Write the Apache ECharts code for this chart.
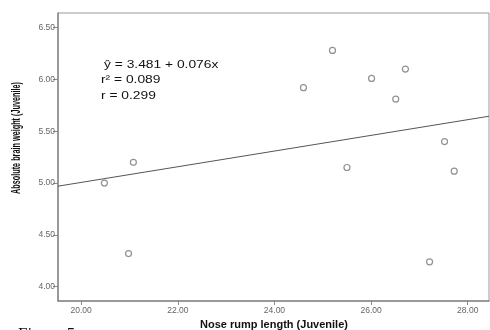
<!DOCTYPE html>
<html><head><meta charset="utf-8">
<script src="https://cdn.jsdelivr.net/npm/echarts@6/dist/echarts.min.js"></script>
<style>html,body{margin:0;padding:0;background:#fff}#c{width:490px;height:330px}</style>
</head><body><div id="c"></div>
<script>
var noseRump = [20.48, 21.08, 20.98, 24.60, 25.20, 26.01, 26.71, 26.51, 27.52, 25.50, 27.72, 27.21];
var brainWeight = [5.00, 5.20, 4.32, 5.92, 6.28, 6.01, 6.10, 5.81, 5.40, 5.15, 5.115, 4.24];
var fitX = [19.52, 28.44];
var fitY = [4.97, 5.645];
var xTicks = [20, 22, 24, 26, 28];
var yTicks = [4.0, 4.5, 5.0, 5.5, 6.0, 6.5];
var xTitle = 'Nose rump length (Juvenile)';
var yTitle = 'Absolute brain weight (Juvenile)';
var eqLines = ['ŷ = 3.481 + 0.076x', 'r\u00B2 = 0.089', 'r = 0.299'];

var chart = echarts.init(document.getElementById('c'), null, {renderer: 'canvas'});
var pts = noseRump.map(function (x, i) { return [x, brainWeight[i]]; });
var fit = fitX.map(function (x, i) { return [x, fitY[i]]; });
var tickFont = {fontFamily: 'Arial, Liberation Sans, sans-serif', fontSize: 8.5, color: '#666'};

chart.setOption({
  animation: false,
  backgroundColor: '#fff',
  grid: {left: 58, top: 13, right: 1, bottom: 29, show: true, borderColor: '#999', borderWidth: 1},
  xAxis: {
    type: 'value', min: 19.52, max: 28.44,
    axisLine: {show: true, lineStyle: {color: '#888', width: 1.5}},
    splitLine: {show: false},
    axisTick: {show: true, length: 4, lineStyle: {color: '#888'}, customValues: xTicks},
    axisLabel: Object.assign({margin: 5, customValues: xTicks, formatter: function (v) { return v.toFixed(2); }}, tickFont)
  },
  yAxis: {
    type: 'value', min: 3.862, max: 6.641,
    axisLine: {show: true, lineStyle: {color: '#888', width: 1.5}},
    splitLine: {show: false},
    axisTick: {show: true, length: 5, lineStyle: {color: '#888'}, customValues: yTicks},
    axisLabel: Object.assign({margin: 3, customValues: yTicks, formatter: function (v) { return v.toFixed(2); }}, tickFont)
  },
  series: [
    {type: 'line', data: fit, symbol: 'none', lineStyle: {color: '#555', width: 1}, silent: true},
    {type: 'scatter', data: pts, symbol: 'circle', symbolSize: 6,
     itemStyle: {color: '#fff', borderColor: '#777', borderWidth: 1.2}}
  ],
  graphic: [
    {type: 'text', x: 104, y: 65, scaleX: 1.2, style: {text: eqLines[0], font: '11.5px Arial, Liberation Sans, sans-serif', fill: '#111', verticalAlign: 'middle'}},
    {type: 'text', x: 101, y: 80, scaleX: 1.2, style: {text: eqLines[1], font: '11.5px Arial, Liberation Sans, sans-serif', fill: '#111', verticalAlign: 'middle'}},
    {type: 'text', x: 101, y: 96, scaleX: 1.2, style: {text: eqLines[2], font: '11.5px Arial, Liberation Sans, sans-serif', fill: '#111', verticalAlign: 'middle'}},
    {type: 'text', x: 274, y: 325, style: {text: xTitle, font: 'bold 11px Arial, Liberation Sans, sans-serif', fill: '#111', align: 'center', verticalAlign: 'middle'}},
    {type: 'text', x: 16, y: 138, rotation: Math.PI / 2, scaleX: 0.56, style: {text: yTitle, font: 'bold 13px Arial, Liberation Sans, sans-serif', fill: '#111', align: 'center', verticalAlign: 'middle'}},
    {type: 'text', x: 18, y: 326, style: {text: 'Figure 5', font: '17px "Liberation Serif", "DejaVu Serif", serif', fill: '#111', verticalAlign: 'top'}}
  ]
});
</script></body></html>
